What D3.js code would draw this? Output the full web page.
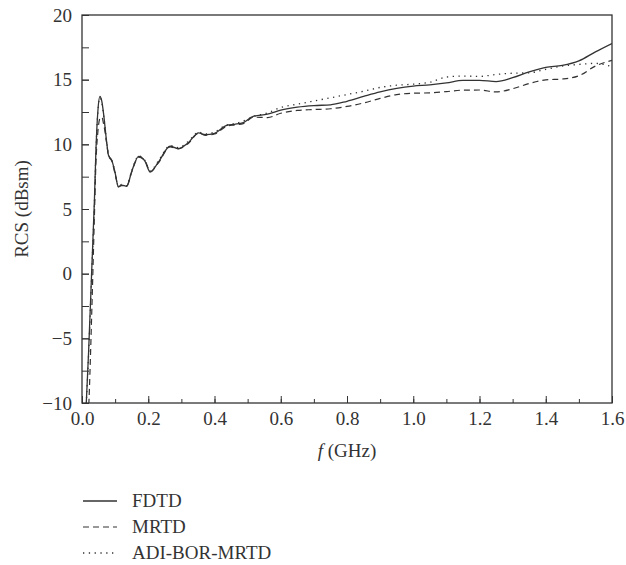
<!DOCTYPE html>
<html>
<head>
<meta charset="utf-8">
<script src="https://cdn.jsdelivr.net/npm/d3@7"></script>
<style>
  body { margin: 0; background: #fff; }
  svg text { font-family: "Liberation Serif", "DejaVu Serif", serif; fill: #333; }
</style>
</head>
<body>
<div id="figure"><svg></svg></div>
<script>
// Chart data
var freq = [0.012, 0.02, 0.03, 0.0375, 0.042, 0.048, 0.054, 0.06, 0.065, 0.075,
            0.08, 0.09, 0.1, 0.11, 0.12, 0.135, 0.15, 0.171, 0.19, 0.206,
            0.23, 0.266, 0.29, 0.32, 0.352, 0.372, 0.4, 0.437, 0.46, 0.487,
            0.517, 0.56, 0.6, 0.65, 0.7, 0.75, 0.8, 0.85, 0.9, 0.95,
            1.0, 1.05, 1.1, 1.15, 1.2, 1.25, 1.3, 1.35, 1.4, 1.45,
            1.5, 1.55, 1.6];
var fdtd = [-10.5, -6, 0.7, 5.7, 9.5, 12.6, 13.7, 13.3, 12.4, 10.05,
            9.15, 8.76, 7.8, 6.7, 6.85, 6.75, 7.9, 9.07, 8.7, 7.85,
            8.6, 9.85, 9.67, 10.1, 10.88, 10.75, 10.85, 11.47, 11.55, 11.68,
            12.17, 12.33, 12.65, 12.88, 13.0, 13.05, 13.33, 13.7, 14.05, 14.32,
            14.5, 14.6, 14.75, 14.95, 14.95, 14.85, 15.15, 15.6, 15.95, 16.1,
            16.45, 17.15, 17.8];
var mrtd = [-14, -10.5, -2.5, 4.5, 8.5, 11.0, 12.0, 12.1, 11.6, 10.0,
            9.1, 8.7, 7.7, 6.75, 6.8, 6.8, 7.85, 9.0, 8.75, 7.9,
            8.55, 9.8, 9.65, 10.05, 10.85, 10.7, 10.8, 11.4, 11.5, 11.6,
            12.1, 12.07, 12.4, 12.62, 12.69, 12.75, 12.93, 13.2, 13.55, 13.85,
            13.95, 13.98, 14.08, 14.19, 14.2, 14.05, 14.3, 14.7, 14.98, 15.05,
            15.3, 16.05, 16.5];
var adi  = [-10.5, -6.2, 0.5, 5.5, 9.4, 12.5, 13.6, 13.2, 12.3, 10.1,
            9.2, 8.8, 7.85, 6.75, 6.9, 6.8, 7.95, 9.1, 8.75, 7.95,
            8.7, 9.9, 9.75, 10.2, 10.95, 10.8, 10.95, 11.5, 11.6, 11.8,
            12.15, 12.43, 12.85, 13.1, 13.35, 13.6, 13.85, 14.1, 14.4, 14.57,
            14.65, 14.8, 15.2, 15.28, 15.25, 15.4, 15.5, 15.53, 15.8, 16.05,
            16.18, 16.26, 16.0];
var seriesNames = ["FDTD", "MRTD", "ADI-BOR-MRTD"];
var xTicks = [0.0, 0.2, 0.4, 0.6, 0.8, 1.0, 1.2, 1.4, 1.6];
var yTicks = [-10, -5, 0, 5, 10, 15, 20];

var width = 626, height = 565;
var margin = {left: 82, top: 15, right: 14, bottom: 162};
var plotW = width - margin.left - margin.right;
var plotH = height - margin.top - margin.bottom;

var svg = d3.select("#figure").select("svg")
    .attr("width", width).attr("height", height);

var x = d3.scaleLinear().domain([0, 1.6]).range([0, plotW]);
var y = d3.scaleLinear().domain([-10, 20]).range([plotH, 0]);

var g = svg.append("g").attr("transform", "translate(" + margin.left + "," + margin.top + ")");

// clip so the steep start is cut at the bottom
g.append("clipPath").attr("id", "clip")
  .append("rect").attr("width", plotW).attr("height", plotH);

// axes: inward ticks, labels on majors only
var xMinor = d3.range(0, 17).map(function (i) { return i / 10; });
var yMinor = d3.range(-10, 20.1, 2.5);

g.append("g").attr("transform", "translate(0," + plotH + ")")
  .call(d3.axisBottom(x).tickValues(xMinor).tickSize(-4).tickFormat(""))
  .call(function (a) { a.select(".domain").remove(); });
g.append("g").attr("transform", "translate(0," + plotH + ")")
  .call(d3.axisBottom(x).tickValues(xTicks).tickSize(-7).tickPadding(9).tickFormat(d3.format(".1f")))
  .call(function (a) { a.select(".domain").remove(); });
g.append("g")
  .call(d3.axisLeft(y).tickValues(yMinor).tickSize(-7).tickFormat(""))
  .call(function (a) { a.select(".domain").remove(); });
g.append("g")
  .call(d3.axisLeft(y).tickValues(yTicks).tickSize(-7).tickPadding(10)
        .tickFormat(function (d) { return d < 0 ? "\u2212" + Math.abs(d) : d; }))
  .call(function (a) { a.select(".domain").remove(); });

g.selectAll(".tick line").attr("stroke", "#333").attr("stroke-width", 1);
g.selectAll(".tick text").attr("font-size", 19).attr("fill", "#333")
  .style("font-family", "Liberation Serif, serif");

// frame
g.append("rect").attr("width", plotW).attr("height", plotH)
  .attr("fill", "none").attr("stroke", "#333").attr("stroke-width", 1.3);

// curves
var styles = [
  {data: fdtd, dash: null, w: 1.3},
  {data: mrtd, dash: "6,4", w: 1.2},
  {data: adi,  dash: "1.3,4.5", w: 1.3}
];
var line = d3.line()
  .x(function (d) { return x(d[0]); })
  .y(function (d) { return y(d[1]); })
  .curve(d3.curveMonotoneX);

styles.forEach(function (s) {
  var pts = freq.map(function (f, i) { return [f, s.data[i]]; });
  g.append("path").datum(pts)
    .attr("clip-path", "url(#clip)")
    .attr("d", line)
    .attr("fill", "none")
    .attr("stroke", "#333")
    .attr("stroke-width", s.w)
    .attr("stroke-dasharray", s.dash);
});

// axis titles
svg.append("text")
  .attr("transform", "translate(28," + (margin.top + plotH / 2) + ") rotate(-90)")
  .attr("text-anchor", "middle").attr("font-size", 19)
  .text("RCS (dBsm)");

var xt = svg.append("text")
  .attr("x", margin.left + plotW / 2).attr("y", 457)
  .attr("text-anchor", "middle").attr("font-size", 19);
xt.append("tspan").attr("font-style", "italic").text("f");
xt.append("tspan").text(" (GHz)");

// legend
var legend = svg.append("g").attr("transform", "translate(83,501)");
seriesNames.forEach(function (name, i) {
  var row = legend.append("g").attr("transform", "translate(0," + (i * 26) + ")");
  row.append("line").attr("x1", 0).attr("x2", 34).attr("y1", 0).attr("y2", 0)
    .attr("stroke", "#333").attr("stroke-width", styles[i].w)
    .attr("stroke-dasharray", styles[i].dash);
  row.append("text").attr("x", 49).attr("y", 6).attr("font-size", 19).text(name);
});
</script>
</body>
</html>
